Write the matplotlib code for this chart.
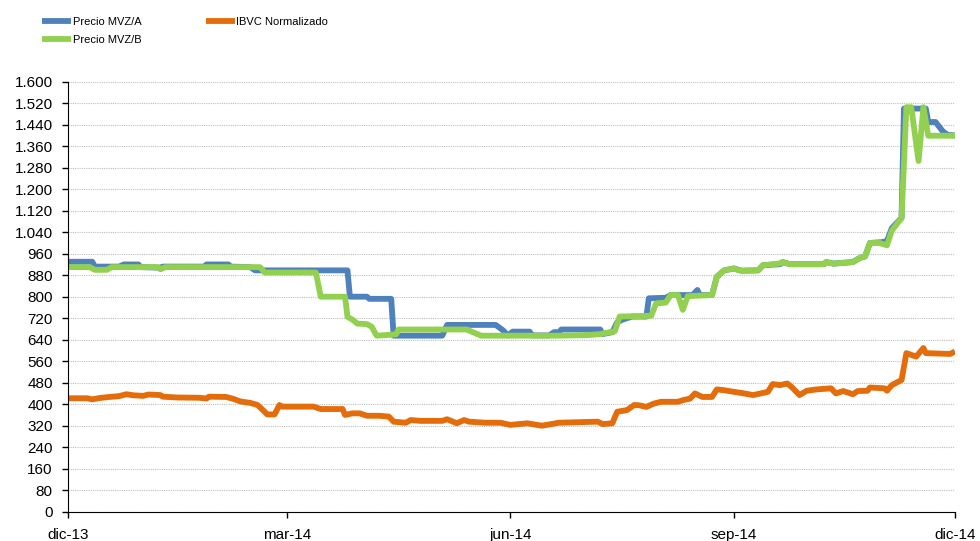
import numpy as np
import matplotlib
matplotlib.use("Agg")
import matplotlib.pyplot as plt
from matplotlib.ticker import FuncFormatter, MultipleLocator

plt.rcParams['font.family'] = ['Liberation Sans', 'DejaVu Sans']

inicio = np.datetime64('2013-12-01')

# dias desde el 1 dic 2013 y precio de cada serie
dias_a = [0, 10, 11, 21, 23, 29, 30, 38, 39, 56, 57, 66, 67, 75, 77, 115, 116,
          123, 124, 133, 134, 154, 156, 176, 179, 181, 183, 190, 191, 198, 200,
          202, 203, 219, 220, 224, 226, 228, 232, 238, 239, 246, 248, 257, 259,
          260, 265, 267, 270, 274, 277, 284, 286, 293, 294, 297, 311, 312, 315,
          323, 326, 328, 330, 335, 337, 339, 343, 344, 353, 354, 357, 360, 362, 365]
precio_a = [930, 930, 912, 912, 920, 920, 910, 908, 912, 912, 920, 920, 912, 910,
            898, 898, 800, 800, 792, 792, 655, 655, 695, 695, 675, 656, 670, 670,
            656, 656, 668, 668, 678, 678, 661, 668, 705, 714, 726, 726, 794, 796,
            806, 806, 825, 806, 806, 874, 898, 905, 897, 898, 917, 921, 929, 921,
            921, 929, 923, 929, 945, 950, 1000, 1003, 1007, 1055, 1093, 1500, 1500,
            1450, 1450, 1415, 1402, 1400]

dias_b = [0, 9, 11, 16, 18, 37, 38, 40, 79, 81, 102, 104, 114, 115, 117, 119,
          123, 125, 127, 132, 135, 136, 164, 170, 202, 214, 219, 223, 225, 227,
          240, 242, 246, 248, 251, 253, 255, 265, 267, 270, 274, 277, 284, 286,
          293, 294, 297, 311, 312, 315, 323, 326, 328, 330, 334, 337, 339, 343,
          345, 347, 350, 352, 354, 365]
precio_b = [910, 910, 900, 900, 910, 910, 902, 910, 910, 890, 890, 800, 800, 725,
            715, 700, 698, 688, 655, 658, 660, 678, 678, 655, 655, 657, 661, 668,
            671, 726, 729, 775, 778, 806, 806, 751, 802, 806, 874, 898, 905, 896,
            898, 917, 924, 929, 921, 921, 929, 923, 929, 945, 950, 1000, 1000, 991,
            1046, 1093, 1505, 1505, 1305, 1505, 1399, 1399]

dias_ibvc = [0, 8, 10, 13, 17, 21, 24, 27, 31, 33, 38, 39, 45, 54, 57, 58, 65,
             68, 71, 75, 78, 80, 82, 85, 87, 88, 101, 104, 113, 114, 117, 120,
             123, 128, 132, 134, 139, 141, 145, 154, 156, 160, 163, 165, 172, 178,
             182, 189, 195, 202, 218, 220, 224, 226, 230, 233, 235, 238, 241, 244,
             251, 253, 256, 258, 261, 265, 267, 270, 274, 277, 282, 285, 288, 290,
             293, 296, 298, 301, 304, 308, 314, 316, 319, 323, 325, 329, 330, 336,
             337, 339, 343, 345, 349, 352, 353, 363, 365]
ibvc = [422, 422, 418, 423, 427, 430, 437, 433, 431, 436, 434, 428, 425, 424, 421,
        428, 427, 420, 410, 405, 397, 380, 362, 362, 397, 391, 391, 382, 382, 360,
        366, 366, 357, 357, 354, 335, 331, 341, 338, 338, 344, 329, 341, 335, 331,
        331, 323, 329, 320, 331, 335, 326, 329, 372, 378, 397, 396, 390, 402, 409,
        409, 415, 421, 440, 427, 427, 455, 452, 446, 442, 434, 440, 446, 475, 471,
        477, 462, 434, 450, 455, 459, 440, 449, 437, 449, 450, 462, 459, 450, 471,
        490, 590, 577, 609, 590, 587, 596]

fechas_ticks = ['2013-12-01', '2014-03-01', '2014-06-01', '2014-09-01', '2014-12-01']
etiquetas_x = ['dic-13', 'mar-14', 'jun-14', 'sep-14', 'dic-14']

azul = '#4F81BD'
verde = '#92D050'
naranja = '#E46C0A'

fig = plt.figure(figsize=(9.8, 5.41), dpi=100)
ax = fig.add_axes([68 / 980, 1 - 511.7 / 541, 887 / 980, 430 / 541])

lw = 4.2
estilo = dict(lw=lw, solid_joinstyle='round', solid_capstyle='butt')
la, = ax.plot(inicio + np.array(dias_a), precio_a, color=azul, label='Precio MVZ/A', **estilo)
li, = ax.plot(inicio + np.array(dias_ibvc), ibvc, color=naranja, label='IBVC Normalizado', **estilo)
lb, = ax.plot(inicio + np.array(dias_b), precio_b, color=verde, label='Precio MVZ/B', **estilo)

ax.set_ylim(0, 1600)
ax.yaxis.set_major_locator(MultipleLocator(80))
ax.yaxis.set_major_formatter(FuncFormatter(lambda v, p: f'{int(v):,}'.replace(',', '.')))
ax.set_xlim(np.datetime64('2013-12-01'), np.datetime64('2014-12-01'))
ax.set_xticks([np.datetime64(f) for f in fechas_ticks])
ax.set_xticklabels(etiquetas_x)

ax.grid(axis='y', color='#BFBFBF', linestyle=(0, (1, 1)), linewidth=0.8)
ax.set_axisbelow(True)
ax.spines['top'].set_visible(False)
ax.spines['right'].set_visible(False)
ax.tick_params(axis='y', labelsize=11, length=4, width=1, pad=7)
ax.tick_params(axis='x', labelsize=11, length=4, width=1, pad=8)

fig.legend(handles=[la, lb, li], ncol=2, loc='upper left',
           bbox_to_anchor=(42 / 980, 1 - 17 / 541), frameon=False, fontsize=8,
           handlelength=2.6, handletextpad=0.15, columnspacing=5.8,
           labelspacing=0.75, borderpad=0, borderaxespad=0)

fig.savefig('out.png', dpi=100)
